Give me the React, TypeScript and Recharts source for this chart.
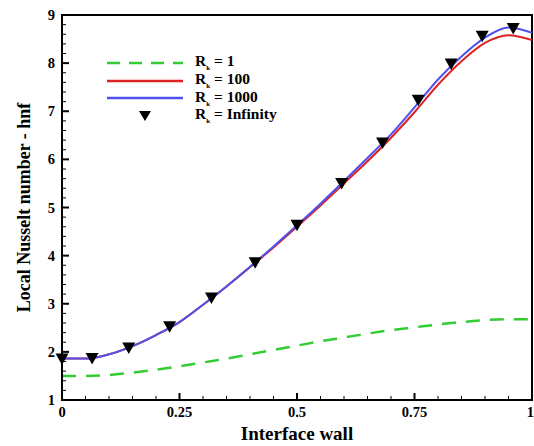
import { ComposedChart, Line, Scatter, XAxis, YAxis, ReferenceArea } from "recharts"

// wall position along the interface (0..1)
const xs = [0, 0.05, 0.1, 0.15, 0.2, 0.25, 0.3, 0.35, 0.4, 0.45, 0.5, 0.55, 0.6, 0.65, 0.7, 0.75, 0.8, 0.85, 0.9, 0.95, 1]

const rk1 = [1.5, 1.5, 1.52, 1.57, 1.63, 1.7, 1.78, 1.86, 1.95, 2.04, 2.13, 2.22, 2.3, 2.38, 2.45, 2.51, 2.57, 2.62, 2.66, 2.68, 2.68]
const rk100 = [1.86, 1.86, 1.95, 2.12, 2.35, 2.62, 2.98, 3.36, 3.76, 4.17, 4.6, 5.04, 5.5, 5.96, 6.45, 6.98, 7.55, 8.04, 8.42, 8.58, 8.48]
const rk1000 = [1.86, 1.86, 1.95, 2.12, 2.35, 2.62, 2.98, 3.36, 3.77, 4.19, 4.63, 5.08, 5.55, 6.03, 6.52, 7.08, 7.66, 8.14, 8.53, 8.74, 8.63]

// R_k = Infinity markers
const infX = [0, 0.064, 0.142, 0.229, 0.318, 0.411, 0.5, 0.595, 0.682, 0.758, 0.828, 0.894, 0.96]
const infY = [1.85, 1.86, 2.08, 2.52, 3.12, 3.85, 4.63, 5.5, 6.34, 7.23, 7.98, 8.56, 8.72]

const xMajor = [0, 0.25, 0.5, 0.75, 1]
const xLabels = ["0", "0.25", "0.5", "0.75", "1"]
const yMajor = [1, 2, 3, 4, 5, 6, 7, 8, 9]

const xTicks: number[] = []
for (let i = 0; i <= 20; i++) xTicks.push(i * 0.05)
const yTicks: number[] = []
for (let i = 0; i <= 40; i++) yTicks.push(1 + i * 0.2)

const toRows = (ys: number[]) => xs.map((x, i) => ({ x, y: ys[i] }))
const infRows = infX.map((x, i) => ({ x, y: infY[i] }))

const serif = "'Liberation Serif', 'Times New Roman', serif"

function XTick(props: any) {
  const { x, y, payload } = props
  const v = payload.value
  const idx = xMajor.findIndex((m) => Math.abs(m - v) < 1e-6)
  const major = idx >= 0
  const last = idx === xMajor.length - 1
  return (
    <g>
      <line x1={x} x2={x} y1={y} y2={y - (major ? 7 : 4)} stroke="#000" strokeWidth={major ? 2 : 1} />
      {major && (
        <text x={last ? x + 2 : x} y={y + 17} textAnchor={last ? "end" : "middle"} fontFamily={serif} fontWeight="bold" fontSize={14.5} fill="#000">
          {xLabels[idx]}
        </text>
      )}
    </g>
  )
}

function YTick(props: any) {
  const { x, y, payload } = props
  const v = payload.value
  const major = yMajor.some((m) => Math.abs(m - v) < 1e-6)
  return (
    <g>
      <line x1={x} x2={x + (major ? 7 : 4)} y1={y} y2={y} stroke="#000" strokeWidth={major ? 2 : 1} />
      {major && (
        <text x={x - 7} y={y + 5} textAnchor="end" fontFamily={serif} fontWeight="bold" fontSize={14.5} fill="#000">
          {Math.round(v)}
        </text>
      )}
    </g>
  )
}

const legendItems = [
  { label: "1", kind: "dash", color: "#33cc33" },
  { label: "100", kind: "line", color: "#dd2222" },
  { label: "1000", kind: "line", color: "#5050ee" },
  { label: "Infinity", kind: "marker", color: "#000" },
]

function LegendBox() {
  return (
    <div style={{ position: "absolute", left: 105, top: 54, fontFamily: serif, fontWeight: "bold", fontSize: 15.5, color: "#000", lineHeight: 1 }}>
      {legendItems.map((it) => (
        <div key={it.label} style={{ display: "flex", alignItems: "center", height: 17.7 }}>
          <svg width={80} height={14} style={{ marginRight: 10 }}>
            {it.kind === "dash" && <line x1={2} x2={78} y1={7} y2={7} stroke={it.color} strokeWidth={2.5} strokeDasharray="13 9" />}
            {it.kind === "line" && <line x1={2} x2={78} y1={7} y2={7} stroke={it.color} strokeWidth={2.5} />}
            {it.kind === "marker" && <polygon points="34,2 46,2 40,12" fill="#000" />}
          </svg>
          <span>
            R<sub style={{ fontSize: 7 }}>k</sub> = {it.label}
          </span>
        </div>
      ))}
    </div>
  )
}

const TriangleDown = (props: any) => {
  const { cx, cy } = props
  return <polygon points={`${cx - 6.5},${cy - 5.5} ${cx + 6.5},${cy - 5.5} ${cx},${cy + 6}`} fill="#000" />
}

export default function App() {
  return (
    <div style={{ position: "absolute", left: 0, top: 0, width: 534, height: 446, background: "#fff" }}>
      <ComposedChart width={534} height={446} margin={{ top: 15, right: 2, bottom: 0, left: 20 }}>
        <XAxis
          dataKey="x"
          type="number"
          domain={[0, 1]}
          ticks={xTicks}
          interval={0}
          height={46}
          tickLine={false}
          tickSize={0}
          tickMargin={0}
          axisLine={{ stroke: "#000", strokeWidth: 2 }}
          tick={<XTick />}
          label={{ value: "Interface wall", position: "insideBottom", offset: 6, fontFamily: serif, fontWeight: "bold", fontSize: 19, fill: "#000" }}
        />
        <YAxis
          dataKey="y"
          type="number"
          domain={[1, 9]}
          ticks={yTicks}
          interval={0}
          width={42}
          tickLine={false}
          tickSize={0}
          tickMargin={0}
          axisLine={{ stroke: "#000", strokeWidth: 2 }}
          tick={<YTick />}
          label={{ value: "Local Nusselt number - hnf", angle: -90, position: "insideLeft", offset: 4, style: { textAnchor: "middle" }, fontFamily: serif, fontWeight: "bold", fontSize: 18, fill: "#000" }}
        />
        <ReferenceArea x1={0} x2={1} y1={1} y2={9} fill="none" stroke="#000" strokeWidth={2} />
        <Line data={toRows(rk1)} dataKey="y" type="monotone" stroke="#33cc33" strokeWidth={2.5} strokeDasharray="14 10" dot={false} isAnimationActive={false} />
        <Line data={toRows(rk100)} dataKey="y" type="monotone" stroke="#dd2222" strokeWidth={2} dot={false} isAnimationActive={false} />
        <Line data={toRows(rk1000)} dataKey="y" type="monotone" stroke="#5050ee" strokeWidth={2} dot={false} isAnimationActive={false} />
        <Scatter data={infRows} dataKey="y" shape={<TriangleDown />} isAnimationActive={false} />
      </ComposedChart>
      <LegendBox />
    </div>
  )
}
